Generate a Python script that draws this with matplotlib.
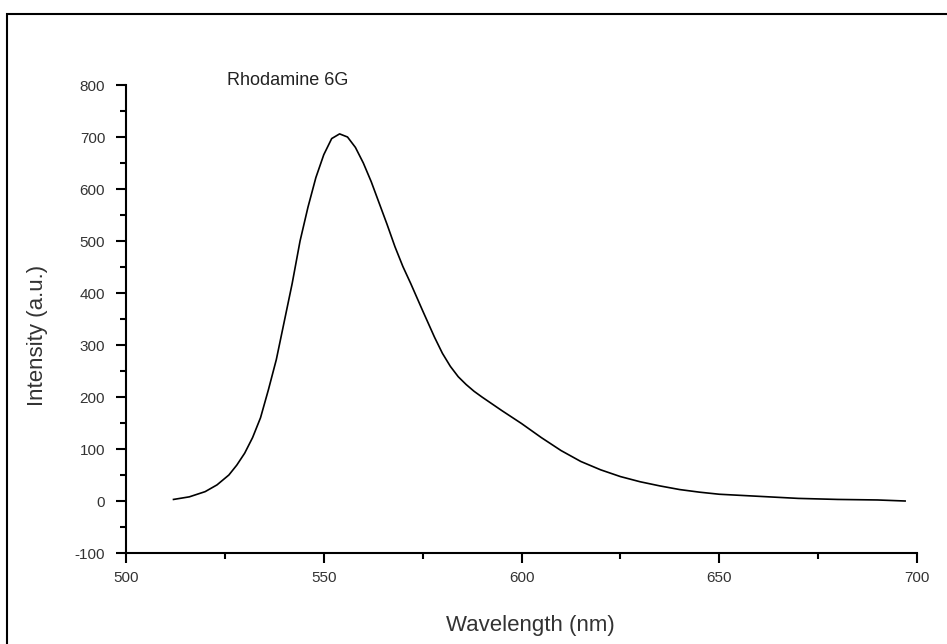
import matplotlib
matplotlib.use("Agg")
import matplotlib.pyplot as plt
from matplotlib.patches import Rectangle
from matplotlib.ticker import MultipleLocator

# emission spectrum
wavelength = [512, 516, 520, 523, 526, 528, 530, 532, 534, 536, 538, 540, 542, 544,
              546, 548, 550, 552, 554, 556, 558, 560, 562, 564, 566, 568, 570, 572,
              575, 578, 580, 582, 584, 586, 588, 590, 595, 600, 605, 610, 615, 620,
              625, 630, 635, 640, 645, 650, 655, 660, 670, 680, 690, 697]
intensity = [3, 8, 18, 31, 50, 69, 92, 122, 160, 214, 272, 345, 418, 500,
             565, 622, 666, 697, 706, 700, 680, 650, 614, 573, 532, 489, 451, 418,
             366, 315, 284, 259, 239, 224, 211, 200, 174, 149, 122, 97, 76, 60,
             47, 37, 29, 22, 17, 13, 11, 9, 5, 3, 2, 0]

plt.rcParams['font.family'] = ['Liberation Sans', 'DejaVu Sans']
plt.rcParams['axes.unicode_minus'] = False

fig = plt.figure(figsize=(9.47, 6.44), dpi=100)
ax = fig.add_axes([0.1331, 0.1413, 0.8352, 0.7267])

ax.plot(wavelength, intensity, color='black', linewidth=1.2)

ax.set_xlim(500, 700)
ax.set_ylim(-100, 800)
ax.xaxis.set_major_locator(MultipleLocator(50))
ax.xaxis.set_minor_locator(MultipleLocator(25))
ax.yaxis.set_major_locator(MultipleLocator(100))
ax.yaxis.set_minor_locator(MultipleLocator(50))

for s in ['top', 'right']:
    ax.spines[s].set_visible(False)
for s in ['left', 'bottom']:
    ax.spines[s].set_linewidth(1.5)

ax.tick_params(which='major', length=7, width=1.5, labelsize=11, colors='black',
               labelcolor='#333333')
ax.tick_params(which='minor', length=4, width=1.5)
ax.tick_params(axis='x', pad=6)
ax.tick_params(axis='y', pad=8)

ax.set_xlabel('Wavelength (nm)', fontsize=16, color='#333333', va='center')
ax.xaxis.set_label_coords(0.511, -0.154)
ax.set_ylabel('Intensity (a.u.)', fontsize=16, color='#333333', va='center')
ax.yaxis.set_label_coords(-0.1125, 0.464)

ax.text(525.5, 808, 'Rhodamine 6G', fontsize=13, color='#222222', va='center', ha='left')

# outer frame of the original picture
fig.patches.append(Rectangle((7 / 947, -0.05), 1.1, 1.028, transform=fig.transFigure,
                             fill=False, edgecolor='black', linewidth=1.5))

fig.savefig('out.png', dpi=100)
